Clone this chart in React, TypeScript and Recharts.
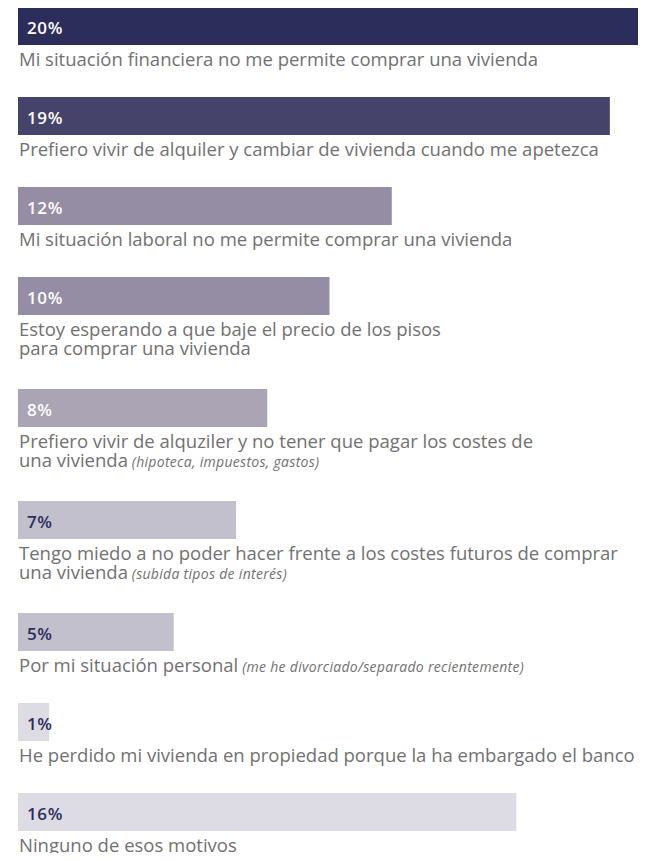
import React from "react";
import { BarChart, Bar, XAxis, YAxis, LabelList } from "recharts";

// reasons for not buying a home (share of respondents, %)
const reasons = [
  "Mi situación financiera no me permite comprar una vivienda",
  "Prefiero vivir de alquiler y cambiar de vivienda cuando me apetezca",
  "Mi situación laboral no me permite comprar una vivienda",
  "Estoy esperando a que baje el precio de los pisos\npara comprar una vivienda",
  "Prefiero vivir de alquziler y no tener que pagar los costes de\nuna vivienda",
  "Tengo miedo a no poder hacer frente a los costes futuros de comprar\nuna vivienda",
  "Por mi situación personal",
  "He perdido mi vivienda en propiedad porque la ha embargado el banco",
  "Ninguno de esos motivos",
];
const notes = [
  "",
  "",
  "",
  "",
  "(hipoteca, impuestos, gastos)",
  "(subida tipos de interés)",
  "(me he divorciado/separado recientemente)",
  "",
  "",
];
const values = [20, 19, 12, 10, 8, 7, 5, 1, 16];

const barColors = [
  "#2c2d5b",
  "#46436a",
  "#958da4",
  "#958da4",
  "#aaa4b5",
  "#c3c0cd",
  "#c3c0cd",
  "#dddbe3",
  "#dddbe3",
];
const labelColors = [
  "#ffffff",
  "#ffffff",
  "#ffffff",
  "#ffffff",
  "#ffffff",
  "#2c2d5b",
  "#2c2d5b",
  "#2c2d5b",
  "#2c2d5b",
];

const FONT = "'Open Sans', 'Noto Sans', sans-serif";
const BAR_H = 38;

function RowLabel(props: any) {
  const { x, y, height, i } = props;
  const lines = reasons[i].split("\n");
  return (
    <g>
      <text
        x={x + 9}
        y={y + height / 2 + 8}
        fill={labelColors[i]}
        fontSize={17}
        fontWeight={600}
        letterSpacing={0.6}
        fontFamily={FONT}
      >
        {values[i]}%
      </text>
      {lines.map((ln: string, k: number) => (
        <text
          key={k}
          x={x + 1}
          y={y + height + 21 + k * 19}
          fill="#717171"
          fontSize={18.5}
          fontFamily={FONT}
        >
          {ln}
          {k === lines.length - 1 && notes[i] ? (
            <tspan fontSize={14} letterSpacing={0.3} fontStyle="italic">
              {" " + notes[i]}
            </tspan>
          ) : null}
        </text>
      ))}
    </g>
  );
}

function Row({ i }: { i: number }) {
  const lines = reasons[i].split("\n").length;
  const h = i === reasons.length - 1 ? 68 : 90 + 22 * (lines - 1);
  const data = [{ name: reasons[i], value: values[i] }];
  return (
    <BarChart
      width={646}
      height={h}
      layout="vertical"
      data={data}
      barCategoryGap={0}
      margin={{ top: 0, right: 5, bottom: h - BAR_H, left: 18 }}
      style={{ display: "block" }}
    >
      <XAxis type="number" domain={[0, 20]} hide />
      <YAxis type="category" dataKey="name" hide />
      <Bar dataKey="value" fill={barColors[i]} isAnimationActive={false}>
        <LabelList
          dataKey="value"
          content={(p: any) => <RowLabel {...p} i={i} />}
        />
      </Bar>
    </BarChart>
  );
}

export default function App() {
  return (
    <div
      style={{
        margin: -8,
        width: 646,
        height: 861,
        paddingTop: 7,
        boxSizing: "border-box",
        overflow: "hidden",
        background: "#fff",
      }}
    >
      {reasons.map((_, i) => (
        <Row key={i} i={i} />
      ))}
    </div>
  );
}
